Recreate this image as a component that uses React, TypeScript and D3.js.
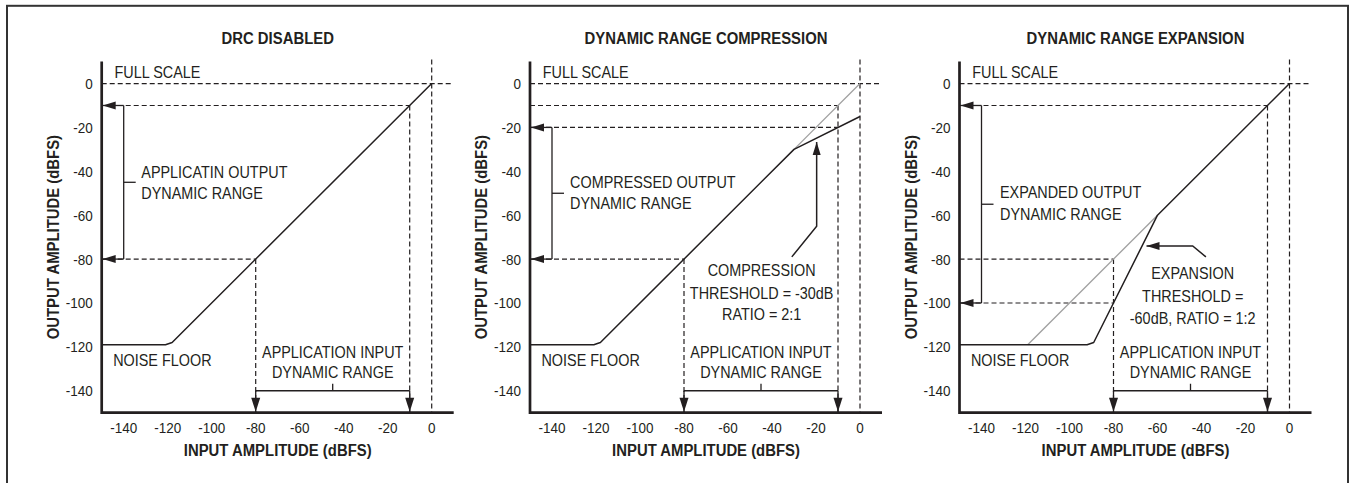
import React from "react";
import * as d3 from "d3";

// ---------- data ----------
const xTicks = [-140, -120, -100, -80, -60, -40, -20, 0];
const yTicks = [0, -20, -40, -60, -80, -100, -120, -140];
const panelTitles = ["DRC DISABLED", "DYNAMIC RANGE COMPRESSION", "DYNAMIC RANGE EXPANSION"];

// transfer curves [input dBFS, output dBFS]
const curveDisabled: [number, number][] = [[-150, -119], [-121, -119], [-118, -118], [0, 0]];
const curveCompression: [number, number][] = [[-150, -119], [-121, -119], [-118, -118], [-30, -30], [0, -15]];
const unityCompression: [number, number][] = [[-30, -30], [0, 0]];
const curveExpansion: [number, number][] = [[-150, -119], [-92, -119], [-89, -118], [-60, -60], [0, 0]];
const unityExpansion: [number, number][] = [[-119, -119], [-60, -60]];

// dashed guides: horizontal [outputLevel, inputEnd, arrowAtAxis(1/0)]
const guidesH1 = [[0, 10, 0], [-10, -10, 1], [-80, -80, 1]];
const guidesH2 = [[0, 10, 0], [-10, -10, 0], [-20, -10, 1], [-80, -80, 1]];
const guidesH3 = [[0, 10, 0], [-10, -10, 1], [-80, -80, 0], [-100, -80, 1]];
// vertical [inputLevel, outputStart]
const guidesV1 = [[0, 11], [-10, -10], [-80, -80]];
const guidesV2 = [[0, 11], [-10, -10], [-80, -80]];
const guidesV3 = [[0, 11], [-10, -10], [-80, -80]];

// output dynamic range brackets [top, bottom]
const outRange1 = [-10, -80];
const outRange2 = [-20, -80];
const outRange3 = [-10, -100];
// input dynamic range
const inRange = [-80, -10];

const outLabels1 = ["APPLICATIN OUTPUT", "DYNAMIC RANGE"];
const outLabels2 = ["COMPRESSED OUTPUT", "DYNAMIC RANGE"];
const outLabels3 = ["EXPANDED OUTPUT", "DYNAMIC RANGE"];
const inLabels = ["APPLICATION INPUT", "DYNAMIC RANGE"];
const noteCompression = ["COMPRESSION", "THRESHOLD = -30dB", "RATIO = 2:1"];
const noteExpansion = ["EXPANSION", "THRESHOLD =", "-60dB, RATIO = 1:2"];
const leaderCompression: [number, number][] = [[-31, -79], [-19.7, -65], [-19.7, -26.6]];
const leaderExpansion: [number, number][] = [[-38, -79], [-44, -74], [-65, -74]];

// ---------- layout ----------
const W = 1351, H = 483;
const panelX0 = [101.7, 530, 959.5];
const PLOT_W = 352;
const Y_TOP = 61.6, Y_BOT = 412.7;
const INK = "#231f20";
const FONT = "'Liberation Sans', Arial, Helvetica, sans-serif";

const yScale = d3.scaleLinear().domain([-150, 10]).range([Y_BOT, Y_TOP]);

function T({ x, y, children, anchor = "start", bold = false, size = 16, sx = 0.9, rotate = 0 }: any) {
  return (
    <text
      transform={`translate(${x},${y})${rotate ? ` rotate(${rotate})` : ""} scale(${sx},1)`}
      textAnchor={anchor}
      fontFamily={FONT}
      fontSize={size}
      fontWeight={bold ? "bold" : "normal"}
      fill={INK}
    >
      {children}
    </text>
  );
}

function arrowHead(tx: number, ty: number, dir: "left" | "down" | "up", len = 13, hw = 4) {
  if (dir === "left") return `M${tx},${ty}L${tx + len},${ty - hw}L${tx + len},${ty + hw}Z`;
  if (dir === "down") return `M${tx},${ty}L${tx - hw},${ty - len}L${tx + hw},${ty - len}Z`;
  return `M${tx},${ty}L${tx - hw},${ty + len}L${tx + hw},${ty + len}Z`;
}

type PanelDef = {
  title: string;
  curve: [number, number][];
  unity?: [number, number][];
  gh: number[][];
  gv: number[][];
  outRange: number[];
  outLabels: string[];
  outLabelX: number;
  outLabelY: number[];
  note?: string[];
  noteX?: number;
  noteY?: number[];
  leader?: [number, number][];
  leaderDir?: "up" | "left";
};

const panels: PanelDef[] = [
  { title: panelTitles[0], curve: curveDisabled, gh: guidesH1, gv: guidesV1, outRange: outRange1, outLabels: outLabels1, outLabelX: -132, outLabelY: [-43, -52.8] },
  { title: panelTitles[1], curve: curveCompression, unity: unityCompression, gh: guidesH2, gv: guidesV2, outRange: outRange2, outLabels: outLabels2, outLabelX: -131.8, outLabelY: [-47.4, -57.3], note: noteCompression, noteX: -44.7, noteY: [-87.8, -98, -107.9], leader: leaderCompression, leaderDir: "up" },
  { title: panelTitles[2], curve: curveExpansion, unity: unityExpansion, gh: guidesH3, gv: guidesV3, outRange: outRange3, outLabels: outLabels3, outLabelX: -131.6, outLabelY: [-52, -62.3], note: noteExpansion, noteX: -44, noteY: [-89.2, -99.5, -109.4], leader: leaderExpansion, leaderDir: "left" },
];

function Panel({ p, x0 }: { p: PanelDef; x0: number }) {
  const x = d3.scaleLinear().domain([-150, 10]).range([x0, x0 + PLOT_W]);
  const line = d3.line<[number, number]>().x((d) => x(d[0])).y((d) => yScale(d[1]));
  const xc = (x(-150) + x(10)) / 2;
  const yc = (yScale(-150) + yScale(10)) / 2;
  const ax = x(-150);
  const bx = x(-140);
  const midOut = (p.outRange[0] + p.outRange[1]) / 2;
  const midIn = (inRange[0] + inRange[1]) / 2;
  const dash = "5,3";
  return (
    <g>
      <T x={xc} y={44.3} anchor="middle" bold size={17} sx={0.875}>{p.title}</T>
      {/* dashed guides */}
      {p.gh.map(([lv, end], i) => (
        <line key={"h" + i} x1={ax} x2={x(end)} y1={yScale(lv)} y2={yScale(lv)} stroke={INK} strokeWidth={1.2} strokeDasharray={dash} />
      ))}
      {p.gv.map(([lv, start], i) => (
        <line key={"v" + i} x1={x(lv)} x2={x(lv)} y1={yScale(start)} y2={yScale(-150)} stroke={INK} strokeWidth={1.2} strokeDasharray={dash} />
      ))}
      {/* curves */}
      {p.unity && <path d={line(p.unity) || ""} fill="none" stroke="#a0a0a0" strokeWidth={1.3} />}
      <path d={line(p.curve) || ""} fill="none" stroke={INK} strokeWidth={1.5} strokeLinejoin="round" />
      {/* output range bracket */}
      <line x1={bx} x2={bx} y1={yScale(p.outRange[0])} y2={yScale(p.outRange[1])} stroke={INK} strokeWidth={1.3} />
      <line x1={bx} x2={bx + 12} y1={yScale(midOut)} y2={yScale(midOut)} stroke={INK} strokeWidth={1.3} />
      {p.gh.filter((g) => g[2] === 1).map(([lv], i) => (
        <g key={"a" + i}>
          <line x1={ax} x2={bx} y1={yScale(lv)} y2={yScale(lv)} stroke={INK} strokeWidth={1.3} />
          <path d={arrowHead(ax + 1, yScale(lv), "left", 13, 4)} fill={INK} />
        </g>
      ))}
      {p.outLabels.map((s, i) => (
        <T key={"ol" + i} x={x(p.outLabelX)} y={yScale(p.outLabelY[i])}>{s}</T>
      ))}
      {/* input range bracket */}
      <line x1={x(inRange[0])} x2={x(inRange[1])} y1={yScale(-140)} y2={yScale(-140)} stroke={INK} strokeWidth={1.3} />
      <line x1={x(midIn)} x2={x(midIn)} y1={yScale(-140)} y2={yScale(-140) - 7} stroke={INK} strokeWidth={1.3} />
      {inRange.map((v, i) => (
        <g key={"ir" + i}>
          <line x1={x(v)} x2={x(v)} y1={yScale(-140)} y2={yScale(-150)} stroke={INK} strokeWidth={1.3} />
          <path d={arrowHead(x(v), yScale(-150) - 1, "down", 14, 4.5)} fill={INK} />
        </g>
      ))}
      {inLabels.map((s, i) => (
        <T key={"il" + i} x={x(midIn)} y={yScale([-124.9, -134.4][i])} anchor="middle">{s}</T>
      ))}
      <T x={x(-144.8)} y={yScale(-128.9)}>NOISE FLOOR</T>
      <T x={x(-144.2)} y={yScale(2.3)}>FULL SCALE</T>
      {/* annotation */}
      {p.note && p.note.map((s, i) => (
        <T key={"n" + i} x={x(p.noteX!)} y={yScale(p.noteY![i])} anchor="middle">{s}</T>
      ))}
      {p.leader && (
        <g>
          <path d={line(p.leader) || ""} fill="none" stroke={INK} strokeWidth={1.5} />
          <path d={arrowHead(x(p.leader[p.leader.length - 1][0]), yScale(p.leader[p.leader.length - 1][1]), p.leaderDir!, 13, 4)} fill={INK} />
        </g>
      )}
      {/* axes */}
      <path d={`M${ax},${yScale(10)}V${yScale(-150)}H${x(10)}`} fill="none" stroke={INK} strokeWidth={2.7} />
      {/* tick labels */}
      {xTicks.map((t) => (
        <T key={"xt" + t} x={x(t)} y={433.3} anchor="middle" size={15} sx={0.9}>{String(t)}</T>
      ))}
      {yTicks.map((t) => (
        <T key={"yt" + t} x={ax - 9} y={yScale(t) + 5.5} anchor="end" size={15} sx={0.9}>{String(t)}</T>
      ))}
      {/* axis titles */}
      <T x={xc} y={456} anchor="middle" bold size={17} sx={0.875}>INPUT AMPLITUDE (dBFS)</T>
      <T x={ax - 43} y={yc} anchor="middle" bold size={17} sx={0.875} rotate={-90}>OUTPUT AMPLITUDE (dBFS)</T>
    </g>
  );
}

export default function App() {
  return (
    <svg width={W} height={H} style={{ position: "absolute", left: 0, top: 0, background: "#fff" }}>
      <rect x={7} y={5.8} width={1341} height={500} fill="none" stroke="#333" strokeWidth={2} />
      {panels.map((p, i) => (
        <Panel key={i} p={p} x0={panelX0[i]} />
      ))}
    </svg>
  );
}
